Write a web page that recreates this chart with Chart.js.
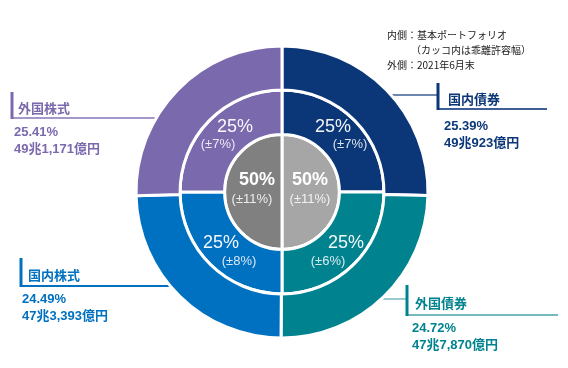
<!DOCTYPE html>
<html>
<head>
<meta charset="utf-8">
<script src="https://cdn.jsdelivr.net/npm/chart.js@4.4.0/dist/chart.umd.min.js"></script>
<style>
  html, body { margin: 0; padding: 0; background: #fff; }
  #wrap { position: relative; width: 568px; height: 368px; }
</style>
</head>
<body>
<div id="wrap"><canvas id="myChart"></canvas></div>
<script>
// outer ring: actual allocation at 2021-06 end
const assets = ['国内債券', '外国債券', '国内株式', '外国株式'];
const actualPct = [25.39, 24.72, 24.49, 25.41];
const actualAmount = ['49兆923億円', '47兆7,870億円', '47兆3,393億円', '49兆1,171億円'];
// middle ring: policy portfolio and allowed deviation
const targetPct = [25, 25, 25, 25];
const targetBand = [7, 6, 8, 7];
// inner circle: bonds / equities
const groups = ['債券', '株式'];
const groupPct = [50, 50];
const groupBand = [11, 11];
const notes = ['内側：基本ポートフォリオ', '（カッコ内は乖離許容幅）', '外側：2021年6月末'];

const assetColors = ['#0B3778', '#00838F', '#0070C0', '#7B69AE'];
const lineColors = ['#3F5E96', '#74BAC0', '#0070C0', '#A497C9'];
const groupColors = ['#A6A6A6', '#808080'];

const NUM_FONT = '"Liberation Sans", "Noto Sans CJK JP", sans-serif';
const JP_FONT = '"Noto Sans CJK JP", sans-serif';

// label boxes (bar on the left, rule underneath)
const boxes = [
    {x: 438, top: 83, bottom: 109, right: 547, link: {y: 95, from: 385}, tx: 448, ty: 99, vx: 444, vy: 126},
    {x: 407, top: 285, bottom: 315, right: 558, link: {y: 299, from: 375}, tx: 415, ty: 303, vx: 412, vy: 328},
    {x: 21, top: 258, bottom: 286, right: 175, link: null, tx: 28, ty: 275, vx: 22, vy: 299},
    {x: 12, top: 92, bottom: 118, right: 165, link: null, tx: 18, ty: 108, vx: 14, vy: 132}
];

const labelPlugin = {
    id: 'labels',
    beforeDatasetsDraw(chart) {
        const ctx = chart.ctx;
        ctx.save();
        boxes.forEach((b, i) => {
            ctx.strokeStyle = lineColors[i];
            ctx.lineWidth = 2;
            ctx.beginPath();
            ctx.moveTo(b.x, b.bottom);
            ctx.lineTo(b.right, b.bottom);
            ctx.stroke();
            if (b.link) {
                ctx.lineWidth = 1.5;
                ctx.beginPath();
                ctx.moveTo(b.link.from, b.link.y);
                ctx.lineTo(b.x, b.link.y);
                ctx.stroke();
            }
            ctx.strokeStyle = assetColors[i];
            ctx.lineWidth = 3;
            ctx.beginPath();
            ctx.moveTo(b.x, b.top);
            ctx.lineTo(b.x, b.bottom + 1);
            ctx.stroke();
        });
        ctx.restore();
    },
    afterDraw(chart) {
        const ctx = chart.ctx;
        ctx.save();
        ctx.textBaseline = 'middle';

        // outside labels
        ctx.textAlign = 'left';
        boxes.forEach((b, i) => {
            ctx.fillStyle = assetColors[i];
            ctx.font = 'bold 13px ' + JP_FONT;
            ctx.fillText(assets[i], b.tx, b.ty);
            ctx.font = 'bold 13px ' + NUM_FONT;
            ctx.fillText(actualPct[i].toFixed(2) + '%', b.vx, b.vy);
            ctx.fillText(actualAmount[i], b.vx, b.vy + 17);
        });

        // notes
        ctx.fillStyle = '#1a1a1a';
        ctx.font = '10px ' + JP_FONT;
        ctx.fillText(notes[0], 387, 35);
        ctx.fillText(notes[1], 411, 50);
        ctx.fillText(notes[2], 387, 65);

        // middle ring
        const mid = [
            {x: 333, y: 127, bx: 350, by: 144},
            {x: 346, y: 243, bx: 328, by: 261},
            {x: 221, y: 243, bx: 239, by: 261},
            {x: 235, y: 127, bx: 218, by: 144}
        ];
        ctx.textAlign = 'center';
        mid.forEach((m, i) => {
            ctx.fillStyle = 'rgba(255,255,255,0.95)';
            ctx.font = '18px ' + NUM_FONT;
            ctx.fillText(targetPct[i] + '%', m.x, m.y);
            ctx.fillStyle = 'rgba(255,255,255,0.85)';
            ctx.font = '13px ' + NUM_FONT;
            ctx.fillText('(±' + targetBand[i] + '%)', m.bx, m.by);
        });

        // inner circle
        const inner = [{x: 310, y: 180}, {x: 257, y: 180}];
        inner.forEach((m, i) => {
            ctx.fillStyle = '#fff';
            ctx.font = 'bold 18px ' + NUM_FONT;
            ctx.fillText(groupPct[i] + '%', m.x, m.y);
            ctx.fillStyle = 'rgba(255,255,255,0.85)';
            ctx.font = '13px ' + NUM_FONT;
            ctx.fillText('(±' + groupBand[i] + '%)', m.x - (i ? 5 : 0), m.y + 19);
        });
        ctx.restore();
    }
};

new Chart(document.getElementById('myChart'), {
    type: 'doughnut',
    data: {
        labels: assets,
        datasets: [
            {data: actualPct, backgroundColor: assetColors, borderColor: '#fff', borderWidth: 3, weight: 44.5},
            {data: targetPct, backgroundColor: assetColors, borderColor: '#fff', borderWidth: 3, weight: 45},
            {data: groupPct, backgroundColor: groupColors, borderColor: '#fff', borderWidth: 3, weight: 58}
        ]
    },
    options: {
        responsive: true,
        maintainAspectRatio: false,
        animation: false,
        cutout: 0,
        layout: {padding: {left: 134.5, right: 138.5, top: 44.5, bottom: 28.5}},
        plugins: {
            legend: {display: false},
            tooltip: {enabled: false}
        }
    },
    plugins: [labelPlugin]
});
</script>
</body>
</html>
